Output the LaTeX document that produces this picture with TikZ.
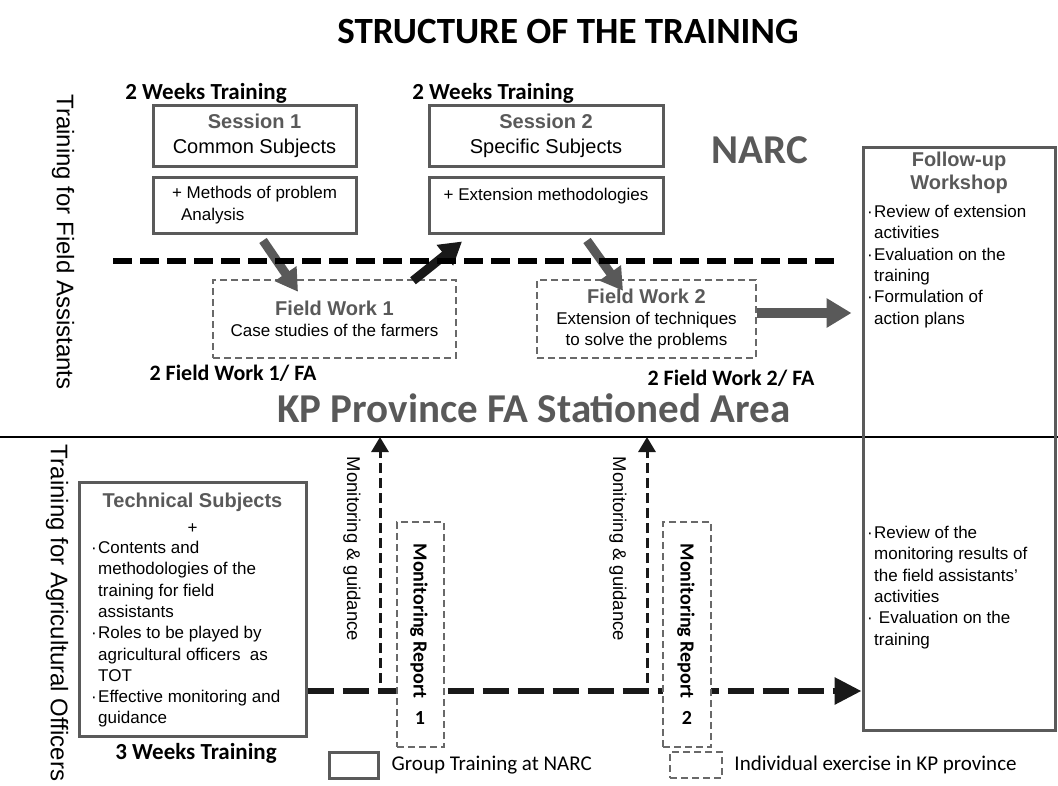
\documentclass[tikz,border=0pt]{standalone}
\usepackage{fontspec}
\setmainfont{Liberation Sans}
\newfontfamily\calibri{Carlito}
\usetikzlibrary{arrows.meta,calc,positioning}

\definecolor{headgray}{RGB}{89,89,89}
\definecolor{framegray}{RGB}{90,90,90}
\definecolor{dashgray}{RGB}{105,105,105}
\definecolor{inkblack}{RGB}{25,25,25}

\newcommand{\bodysize}{\fontsize{17}{21.3}\selectfont}
\newcommand{\boxhead}[1]{{\fontsize{20}{22}\selectfont\bfseries\color{headgray}#1}}
\newcommand{\bul}{\makebox[7pt][l]{·}}
\newcommand{\cont}{\hspace*{7pt}}

\begin{document}
\begin{tikzpicture}[
		x=1pt, y=-1pt,
		every node/.style={inner sep=0pt},
		group box/.style={draw=framegray, line width=3pt},
		field box/.style={draw=dashgray, line width=2.5pt, dash pattern=on 7pt off 4pt},
		session text/.style={font=\fontsize{20}{25}\selectfont, align=center},
		box text/.style={font=\bodysize, align=center},
		list text/.style={font=\bodysize, align=left, anchor=north west},
		week label/.style={font=\calibri\bfseries\fontsize{23}{28}\selectfont},
		count label/.style={font=\calibri\bfseries\fontsize{22}{26}\selectfont},
		place label/.style={font=\calibri\bfseries\fontsize{41}{48}\selectfont, text=headgray},
		side label/.style={font=\fontsize{24}{30}\selectfont, rotate=-90},
		report label/.style={font=\calibri\bfseries\fontsize{20}{24}\selectfont},
		guide label/.style={font=\fontsize{18.5}{22}\selectfont, rotate=-90},
		legend label/.style={font=\calibri\fontsize{21}{25}\selectfont, anchor=west},
		move/.style={line width=9pt, -{Triangle[width=25pt,length=22pt]}},
		visit/.style={inkblack, line width=3pt, dash pattern=on 10pt off 5pt, -{Triangle[width=17pt,length=15pt]}},
		route/.style={inkblack, line width=6pt, dash pattern=on 26pt off 9pt, -{Triangle[width=26pt,length=27pt]}}
		]
	\useasboundingbox (0,0) rectangle (1058,785);

	% Title
	\node[font=\calibri\bfseries\fontsize{37}{44}\selectfont] (title) at (568,32) {STRUCTURE OF THE TRAINING};

	% Side labels
	\node[side label] (fa) at (63,242) {Training for Field Assistants};
	\node[side label] (ao) at (57,613) {Training for Agricultural Officers};

	% Divider
	\coordinate (divL) at (0,437);
	\coordinate (divR) at (1058,437);
	\draw[line width=2.5pt] (divL) -- (divR);

	% Sessions at NARC
	\node[week label] (w1) at (206,93) {2 Weeks Training};
	\node[week label] (w2) at (493,93) {2 Weeks Training};
	\node[group box, session text, minimum width=203pt, minimum height=61pt] (s1) at (254.5,135.5) {\boxhead{Session 1}\\Common Subjects};
	\node[group box, font=\bodysize, align=left, minimum width=203pt, minimum height=56pt] (s1b) at (254.5,205) {+ Methods of problem\\\hspace*{9pt}Analysis};
	\node[group box, session text, minimum width=234pt, minimum height=61pt] (s2) at (546,135.5) {\boxhead{Session 2}\\Specific Subjects};
	\node[group box, font=\bodysize, align=left, minimum width=234pt, minimum height=56pt] (s2b) at (546,205) {+ Extension methodologies\\\mbox{}};
	\node[place label] (narc) at (760,150) {NARC};

	% Field work in the province
	\node[field box, box text, minimum width=243pt, minimum height=78pt] (fw1) at (334.5,319) {\boxhead{Field Work 1}\\Case studies of the farmers};
	\node[field box, box text, minimum width=219pt, minimum height=78pt] (fw2) at (646.5,319) {\boxhead{Field Work 2}\\Extension of techniques\\to solve the problems};
	\node[count label] (fc1) at (233,373) {2 Field Work 1/ FA};
	\node[count label] (fc2) at (731,378) {2 Field Work 2/ FA};
	\node[place label] (kp) at (534,408) {KP Province FA Stationed Area};

	% Follow-up workshop
	\node[group box, minimum width=192pt, minimum height=583pt] (fu) at (959,438.5) {};
	\node[font=\fontsize{20}{23}\selectfont\bfseries, text=headgray, align=center] (fuhead) at (959,173) {Follow-up\\Workshop};
	\node[list text] (fuup) at (867,205) {\bul Review of extension\\\cont activities\\\bul Evaluation on the\\\cont training\\\bul Formulation of\\\cont action plans};
	\node[list text] (fulow) at (867,526) {\bul Review of the\\\cont monitoring results of\\\cont the field assistants’\\\cont activities\\\bul\ Evaluation on the\\\cont training};

	% Technical subjects for the officers
	\node[group box, minimum width=227pt, minimum height=254pt] (ts) at (192.5,609) {};
	\node[font=\fontsize{20}{26}\selectfont, align=center] (tshead) at (192.5,513) {\boxhead{Technical Subjects}\\{\bodysize+}};
	\node[list text] (tslist) at (91,541) {\bul Contents and\\\cont methodologies of the\\\cont training for field\\\cont assistants\\\bul Roles to be played by\\\cont agricultural officers\ \ as\\\cont TOT\\\bul Effective monitoring and\\\cont guidance};
	\node[week label] (w3) at (196,753) {3 Weeks Training};

	% Monitoring & guidance
	\coordinate (g1) at (380,683);
	\coordinate (g2) at (647,683);
	\draw[visit] (g1) -- (g1 |- divL);
	\draw[visit] (g2) -- (g2 |- divL);
	\node[guide label] (gl1) at (352,549) {Monitoring \& guidance};
	\node[guide label] (gl2) at (618,549) {Monitoring \& guidance};

	% Route of the officers to the workshop
	\draw[route] ($(ts.east)+(0,82)$) -- ($(ts.east -| fu.west)+(0,82)$);

	% Monitoring reports (drawn over the route)
	\node[field box, fill=white, minimum width=47pt, minimum height=225pt] (mr1) at (420.5,634.5) {};
	\node[report label, rotate=-90] (mr1t) at (419,621) {Monitoring Report};
	\node[report label] (mr1n) at (420,718) {1};
	\node[field box, fill=white, minimum width=48pt, minimum height=225pt] (mr2) at (687,634.5) {};
	\node[report label, rotate=-90] (mr2t) at (686,621) {Monitoring Report};
	\node[report label] (mr2n) at (687,718) {2};

	% Moves between NARC and the field
	\draw[move, headgray] ($(s1b.south)+(8.5,6)$) -- ($(fw1.north)+(-36.5,13)$);
	\draw[move, inkblack] ($(fw1.north)+(78.5,2)$) -- ($(s2b.south)+(-84,7)$);
	\draw[move, headgray] ($(s2b.south)+(41,6)$) -- ($(fw2.north)+(-23.5,12)$);
	\draw[move, headgray, line width=10pt, -{Triangle[width=28pt,length=25pt]}] ($(fw2.east)+(0,-6)$) -- ($(fw2.east -| fu.west)+(-10,-6)$);

	% NARC line
	\coordinate (narcL) at (113,261);
	\coordinate (narcR) at (840,261);
	\draw[line width=5.5pt, dash pattern=on 19pt off 8pt] (narcL) -- (narcR);

	% Legend
	\node[group box, minimum width=49pt, minimum height=26pt] (lg1) at (353.5,765) {};
	\node[legend label, right=12pt of lg1] (lg1t) {Group Training at NARC};
	\node[field box, minimum width=52pt, minimum height=26pt] (lg2) at (696,765) {};
	\node[legend label, right=11pt of lg2] (lg2t) {Individual exercise in KP province};
\end{tikzpicture}
\end{document}
